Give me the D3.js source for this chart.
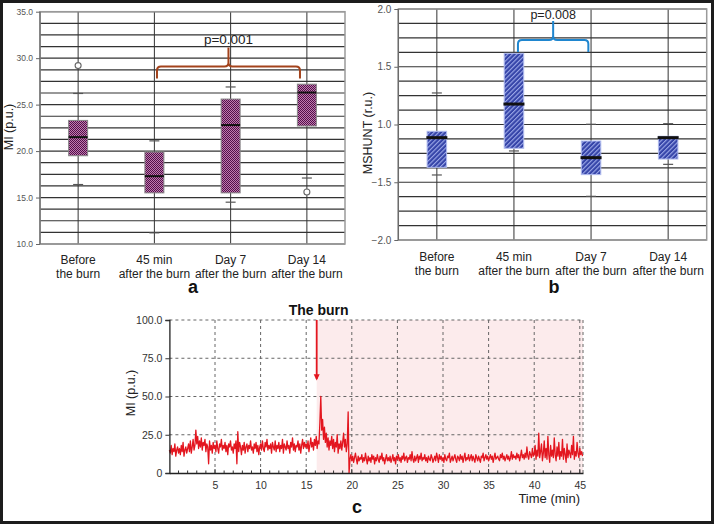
<!DOCTYPE html>
<html><head><meta charset="utf-8">
<script src="https://cdn.jsdelivr.net/npm/d3@7"></script>
<style>
body{margin:0;background:#fff}
svg{display:block}
text{font-family:"Liberation Sans",Arial,sans-serif}
</style>
</head><body>
<svg id="chart" width="714" height="524"></svg>
<script>
// ---------- shared categories ----------
const categories = ["Before", "45 min", "Day 7", "Day 14"];
const categorySubLabels = ["the burn", "after the burn", "after the burn", "after the burn"];

// ---------- panel a : MI (p.u.) ----------
const miTicks = [10, 15, 20, 25, 30, 35];
const miLower = [16.4, 11.2, 14.5, 17.1];
const miQ1 = [19.5, 15.5, 15.5, 22.7];
const miMedian = [21.5, 17.3, 22.8, 26.3];
const miQ3 = [23.3, 19.9, 25.6, 27.2];
const miUpper = [26.2, 21.1, 26.9, null];
const miOutliers = [[29.2], [], [], [15.6]];
const miPText = "p=0.001";

// ---------- panel b : MSHUNT (r.u.) ----------
const shTickValues = [0, 0.5, 1, 1.5, 2];
const shTickLabels = ["\u22122.0", "\u22121.5", "1.0", "1.5", "2.0"];
const shLower = [0.563, 0.771, 0.378, 0.655];
const shQ1 = [0.629, 0.794, 0.566, 0.701];
const shMedian = [0.886, 1.177, 0.713, 0.886];
const shQ3 = [0.941, 1.616, 0.857, 0.898];
const shUpper = [1.273, null, 1.002, 1.007];
const shPText = "p=0.008";

// ---------- panel c : MI time series ----------
const timeTicks = [5, 10, 15, 20, 25, 30, 35, 40, 45];
const miSeriesTicks = [0, 25, 50, 75, 100];
const miSeriesTickLabels = ["0", "25.0", "50.0", "75.0", "100.0"];
const timeStep = 0.1; // minutes between samples
const burnTime = 16.15;
const timeMax = 45.35;
const miSeries = [
15,13,18,12,16,14,19,11,15,17,
13,16,12,18,14,20,11,15,17,13,
16,19,14,21,13,17,22,15,18,28,
19,24,16,21,17,23,15,20,18,22,
14,19,17,6,21,15,18,13,20,16,
18,14,21,16,13,19,17,22,15,18,
16,20,14,18,12,19,17,21,15,17,
13,19,16,21,6,27,14,20,17,12,
18,15,20,13,17,19,14,18,16,21,
15,17,13,19,16,20,14,18,12,17,
19,15,21,16,14,20,17,22,15,18,
16,19,13,20,17,15,21,14,18,16,
20,14,18,16,22,13,19,17,15,21,
16,18,13,20,17,23,15,19,14,18,
17,21,15,19,13,18,22,16,20,17,
19,16,21,14,18,23,17,20,15,22,
18,24,16,21,19,33,50,28,35,22,
30,20,26,17,23,15,21,18,24,16,
22,14,20,17,25,13,19,16,21,15,
20,26,17,22,14,19,40,0,9,12,
8,11,7,10,13,9,6,11,8,10,
9,12,7,10,8,13,9,6,11,8,
10,7,12,9,11,6,10,8,12,9,
7,11,9,13,8,10,6,9,12,8,
10,8,11,7,9,12,8,10,6,11,
9,12,8,10,7,11,9,13,8,10,
11,7,10,9,12,8,14,9,7,11,
8,10,12,7,11,9,13,8,10,9,
12,8,10,7,11,9,8,12,10,7,
9,11,8,13,10,7,12,9,11,8,
10,7,12,9,8,11,10,13,7,9,
11,8,10,12,9,7,11,10,8,12,
9,11,7,10,13,8,10,9,12,8,
10,12,8,11,9,7,12,10,8,11,
9,7,11,10,13,8,10,12,9,11,
8,10,12,9,11,7,10,13,9,10,
11,9,8,12,10,13,9,11,8,10,
12,9,11,8,10,14,9,12,10,11,
9,13,10,12,8,11,15,10,12,9,
13,10,17,11,9,14,12,10,16,11,
12,18,9,15,11,26,10,14,19,8,
13,21,10,16,9,24,12,7,18,11,
15,10,23,12,8,17,11,20,9,14,
11,22,9,16,12,7,19,10,15,13,
10,18,12,24,9,14,11,20,13,10,
16,12,14,11
];

const svg = d3.select("#chart");

// outer frame
svg.append("rect").attr("x", 1.5).attr("y", 1.5).attr("width", 711).attr("height", 521)
  .attr("fill", "#fff").attr("stroke", "#1c1c1c").attr("stroke-width", 3);

// patterns
const defs = svg.append("defs");
const chk = defs.append("pattern").attr("id", "checker").attr("patternUnits", "userSpaceOnUse")
  .attr("width", 2).attr("height", 2);
chk.append("rect").attr("width", 2).attr("height", 2).attr("fill", "#c07aae");
chk.append("rect").attr("width", 1).attr("height", 1).attr("fill", "#52104a");
chk.append("rect").attr("x", 1).attr("y", 1).attr("width", 1).attr("height", 1).attr("fill", "#52104a");

const hatch = defs.append("pattern").attr("id", "hatch").attr("patternUnits", "userSpaceOnUse")
  .attr("width", 3.2).attr("height", 3.2).attr("patternTransform", "rotate(-45)");
hatch.append("rect").attr("width", 3.2).attr("height", 3.2).attr("fill", "#3544a8");
hatch.append("rect").attr("width", 3.2).attr("height", 1.1).attr("fill", "#9ca8e8");

// ---------- generic box panel ----------
function boxPanel(opt) {
  const g = svg.append("g");
  const x = d3.scalePoint().domain(categories).range([opt.left, opt.right]).padding(0.5);
  const y = d3.scaleLinear().domain(opt.domain).range([opt.bottom, opt.top]);

  // horizontal grid
  g.append("g").selectAll("line").data(opt.grid).join("line")
    .attr("x1", opt.left).attr("x2", opt.right)
    .attr("y1", d => y(d)).attr("y2", d => y(d))
    .attr("stroke", "#333").attr("stroke-width", 1.2);
  // vertical category lines
  g.append("g").selectAll("line").data(categories).join("line")
    .attr("x1", d => x(d)).attr("x2", d => x(d))
    .attr("y1", opt.top).attr("y2", opt.bottom)
    .attr("stroke", "#333").attr("stroke-width", 1);
  // frame
  g.append("rect").attr("x", opt.left).attr("y", opt.top)
    .attr("width", opt.right - opt.left).attr("height", opt.bottom - opt.top)
    .attr("fill", "none").attr("stroke", "#9a9a9a").attr("stroke-width", 1.5);
  g.append("line").attr("x1", opt.left).attr("x2", opt.left).attr("y1", opt.top).attr("y2", opt.bottom)
    .attr("stroke", "#666").attr("stroke-width", 1.2);

  // axis
  const ax = g.append("g").attr("transform", `translate(${opt.left},0)`)
    .call(d3.axisLeft(y).tickValues(opt.ticks).tickSize(4).tickFormat(opt.fmt));
  ax.select(".domain").remove();
  ax.selectAll(".tick line").attr("stroke", "#666");
  ax.selectAll(".tick text").attr("font-size", opt.tickFont).attr("fill", "#555")
    .attr("font-family", "Liberation Sans, Arial, sans-serif");

  const d = categories.map((c, i) => ({c, lo: opt.lower[i], q1: opt.q1[i], med: opt.median[i], q3: opt.q3[i], hi: opt.upper[i], out: opt.outliers ? opt.outliers[i] : []}));

  // caps
  d.forEach(v => {
    [v.lo, v.hi].forEach(w => {
      if (w == null) return;
      g.append("line").attr("x1", x(v.c) - opt.capW / 2).attr("x2", x(v.c) + opt.capW / 2)
        .attr("y1", y(w)).attr("y2", y(w)).attr("stroke", "#555").attr("stroke-width", 1.2);
    });
  });
  // boxes
  g.append("g").selectAll("rect").data(d).join("rect")
    .attr("x", v => x(v.c) - opt.boxW / 2).attr("width", opt.boxW)
    .attr("y", v => y(v.q3)).attr("height", v => y(v.q1) - y(v.q3))
    .attr("fill", opt.fill).attr("stroke", opt.boxStroke).attr("stroke-width", 1);
  // medians
  g.append("g").selectAll("line").data(d).join("line")
    .attr("x1", v => x(v.c) - opt.medW / 2).attr("x2", v => x(v.c) + opt.medW / 2)
    .attr("y1", v => y(v.med)).attr("y2", v => y(v.med))
    .attr("stroke", "#111").attr("stroke-width", opt.medStroke);
  // outliers
  d.forEach(v => v.out.forEach(o => {
    g.append("circle").attr("cx", x(v.c)).attr("cy", y(o)).attr("r", 3)
      .attr("fill", "#fff").attr("stroke", "#666").attr("stroke-width", 1.1);
  }));

  // category labels
  categories.forEach((c, i) => {
    g.append("text").attr("x", x(c)).attr("y", opt.labelY).attr("text-anchor", "middle")
      .attr("font-size", 12).attr("fill", "#222").text(c);
    g.append("text").attr("x", x(c)).attr("y", opt.labelY + 14).attr("text-anchor", "middle")
      .attr("font-size", 12).attr("fill", "#222").text(categorySubLabels[i]);
  });
  // y title
  g.append("text").attr("transform", `translate(${opt.titleX},${opt.titleY}) rotate(-90)`)
    .attr("text-anchor", "middle").attr("font-size", 12.5).attr("fill", "#222").text(opt.title);
  // panel letter
  g.append("text").attr("x", opt.letterX).attr("y", 293).attr("text-anchor", "middle")
    .attr("font-size", 18).attr("font-weight", "bold").attr("fill", "#111").text(opt.letter);

  // brace
  const bx1 = x(categories[opt.brace[0]]) + opt.braceOff[0];
  const bx2 = x(categories[opt.brace[1]]) + opt.braceOff[1];
  const bc = (bx1 + bx2) / 2;
  const yb = opt.braceY, ye = opt.braceEnd, yt = opt.braceTip, r = 4;
  const p = `M${bx1},${ye} L${bx1},${yb + r} Q${bx1},${yb} ${bx1 + r},${yb} L${bc - r},${yb} Q${bc},${yb} ${bc},${yb - r} L${bc},${yt}`
          + ` M${bc},${yb - r} Q${bc},${yb} ${bc + r},${yb} L${bx2 - r},${yb} Q${bx2},${yb} ${bx2},${yb + r} L${bx2},${ye}`;
  g.append("path").attr("d", p).attr("fill", "none").attr("stroke", opt.braceColor).attr("stroke-width", 2);
  const pt = g.append("text").attr("x", bc).attr("y", opt.pY).attr("text-anchor", "middle")
    .attr("font-size", opt.pFont).attr("fill", "#222").text(opt.pText);
  if (opt.pSerif) pt.attr("font-family", "Liberation Serif, Times New Roman, serif");
  return {x, y};
}

boxPanel({
  left: 40, right: 345, top: 11.7, bottom: 244, domain: [10, 35],
  grid: d3.range(10, 35.01, 1.25), ticks: miTicks, fmt: d3.format(".1f"), tickFont: 8.5,
  lower: miLower, q1: miQ1, median: miMedian, q3: miQ3, upper: miUpper, outliers: miOutliers,
  boxW: 19, medW: 19, medStroke: 2, capW: 10,
  fill: "url(#checker)", boxStroke: "#888",
  labelY: 264, title: "MI (p.u.)", titleX: 13, titleY: 127, letter: "a", letterX: 193,
  brace: [1, 3], braceOff: [2.6, -6.9], braceY: 66.5, braceEnd: 78.5, braceTip: 47.5,
  braceColor: "#a3431c", pText: miPText, pY: 43.5, pFont: 13.5, pSerif: true
});

boxPanel({
  left: 398.3, right: 706.7, top: 9, bottom: 240, domain: [0, 2],
  grid: d3.range(0, 2.001, 0.125), ticks: shTickValues, fmt: (d, i) => shTickLabels[i], tickFont: 10,
  lower: shLower, q1: shQ1, median: shMedian, q3: shQ3, upper: shUpper, outliers: null,
  boxW: 19.5, medW: 21, medStroke: 3, capW: 10,
  fill: "url(#hatch)", boxStroke: "#b0bbee",
  labelY: 260.5, title: "MSHUNT (r.u.)", titleX: 372, titleY: 133, letter: "b", letterX: 554,
  brace: [1, 2], braceOff: [4, -2.7], braceY: 40, braceEnd: 52, braceTip: 21,
  braceColor: "#1f86cf", pText: shPText, pY: 19, pFont: 12.5, pSerif: false
});

// ---------- panel c ----------
const gc = svg.append("g");
const xc = d3.scaleLinear().domain([0, timeMax]).range([169.4, 583]);
const yc = d3.scaleLinear().domain([0, 100]).range([473, 320]);

// shaded post-burn area
gc.append("rect").attr("x", xc(burnTime)).attr("y", yc(100))
  .attr("width", xc(timeMax) - xc(burnTime)).attr("height", yc(0) - yc(100))
  .attr("fill", "#fcebec");

// dashed grid
gc.append("g").selectAll("line").data(timeTicks.concat([timeMax])).join("line")
  .attr("x1", d => xc(d)).attr("x2", d => xc(d)).attr("y1", yc(100)).attr("y2", yc(0))
  .attr("stroke", "#666").attr("stroke-width", 1).attr("stroke-dasharray", "3,3");
gc.append("g").selectAll("line").data(miSeriesTicks.slice(1)).join("line")
  .attr("x1", xc(0)).attr("x2", xc(timeMax)).attr("y1", d => yc(d)).attr("y2", d => yc(d))
  .attr("stroke", "#666").attr("stroke-width", 1).attr("stroke-dasharray", "3,3");

// series
const line = d3.line().x((d, i) => xc(i * timeStep)).y(d => yc(d));
gc.append("path").datum(miSeries).attr("d", line)
  .attr("fill", "none").attr("stroke", "#e3161f").attr("stroke-width", 1.3).attr("stroke-linejoin", "round");

// axes
const axL = gc.append("g").attr("transform", `translate(${xc(0)},0)`)
  .call(d3.axisLeft(yc).tickValues(miSeriesTicks).tickSize(4).tickFormat((d, i) => miSeriesTickLabels[i]));
axL.select(".domain").attr("stroke", "#222").attr("stroke-width", 1.3);
axL.selectAll(".tick line").attr("stroke", "#333");
axL.selectAll(".tick text").attr("font-size", 10.5).attr("fill", "#333")
  .attr("font-family", "Liberation Sans, Arial, sans-serif");

const axB = gc.append("g").attr("transform", `translate(0,${yc(0)})`)
  .call(d3.axisBottom(xc).tickValues(timeTicks).tickSize(0).tickPadding(9).tickFormat(d3.format("d")));
axB.select(".domain").attr("stroke", "#222").attr("stroke-width", 1.3);
axB.selectAll(".tick text").attr("font-size", 10.5).attr("fill", "#333")
  .attr("font-family", "Liberation Sans, Arial, sans-serif");
gc.append("g").selectAll("line").data(d3.range(1, 46)).join("line")
  .attr("x1", d => xc(d)).attr("x2", d => xc(d))
  .attr("y1", yc(0)).attr("y2", d => yc(0) - (d % 5 === 0 ? 4 : 2.5))
  .attr("stroke", "#333").attr("stroke-width", 1);

// burn arrow
const ax0 = xc(burnTime);
gc.append("line").attr("x1", ax0).attr("x2", ax0).attr("y1", yc(100)).attr("y2", yc(61.5))
  .attr("stroke", "#e3161f").attr("stroke-width", 1.8);
gc.append("path").attr("d", `M${ax0 - 3},${yc(64.5)} L${ax0 + 3},${yc(64.5)} L${ax0},${yc(60.5)} Z`)
  .attr("fill", "#e3161f");
gc.append("text").attr("x", ax0 + 2).attr("y", 315).attr("text-anchor", "middle")
  .attr("font-size", 14).attr("font-weight", "bold").attr("fill", "#111").text("The burn");

// labels
gc.append("text").attr("transform", `translate(${135},${393}) rotate(-90)`).attr("text-anchor", "middle")
  .attr("font-size", 12.5).attr("fill", "#222").text("MI (p.u.)");
gc.append("text").attr("x", 580).attr("y", 503).attr("text-anchor", "end")
  .attr("font-size", 13).attr("fill", "#222").text("Time (min)");
gc.append("text").attr("x", 357).attr("y", 513).attr("text-anchor", "middle")
  .attr("font-size", 18).attr("font-weight", "bold").attr("fill", "#111").text("c");
</script>
</body></html>
